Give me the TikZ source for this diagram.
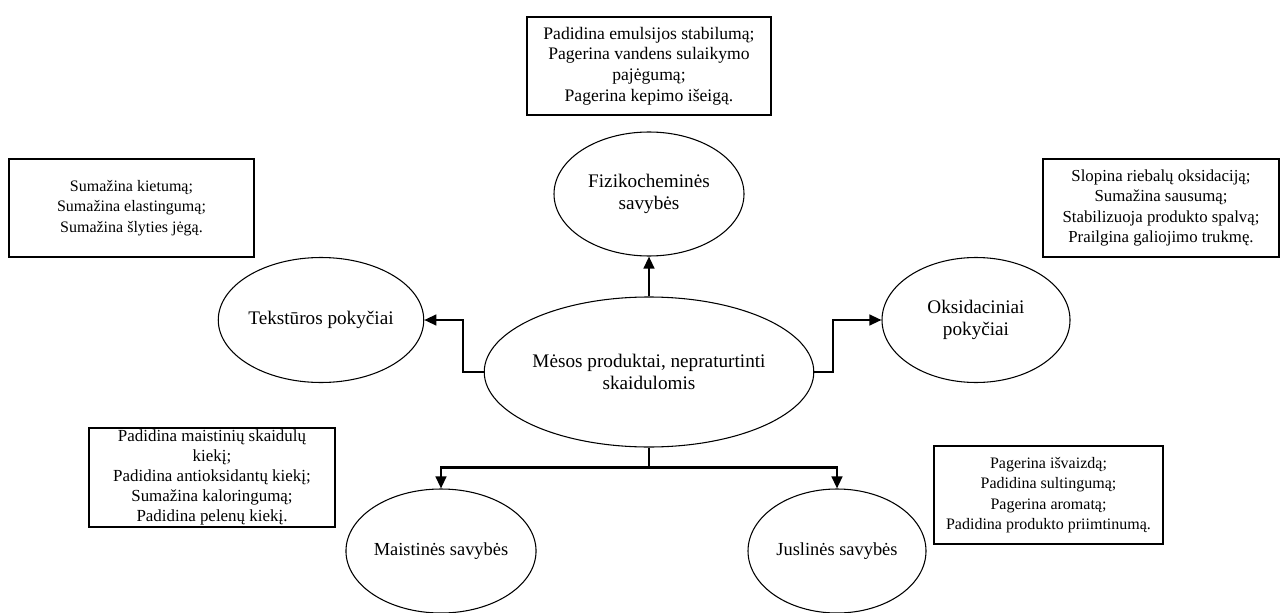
\documentclass[tikz,border=0pt]{standalone}
\usepackage{fontspec}
\setmainfont{Liberation Serif}
\usetikzlibrary{shapes.geometric,arrows.meta}
\begin{document}
\begin{tikzpicture}[x=0.75pt,y=-0.75pt,
  oval/.style={ellipse,draw,line width=0.8pt,inner sep=0pt,align=center,font=\fontsize{14.4}{16.8}\selectfont},
  infobox/.style={rectangle,draw,line width=1pt,inner sep=0pt,align=center,font=\fontsize{12}{15.2}\selectfont},
  conn/.style={line width=1.6pt,-{Triangle[length=9pt,width=8pt]}}]
\useasboundingbox (0,0) rectangle (1280,613);

% ellipses
\node[oval,minimum width=242.25pt,minimum height=112.5pt] (c) at (649,372) {Mėsos produktai, nepraturtinti\\skaidulomis};
\node[oval,minimum width=142.5pt,minimum height=93pt] (fiz) at (649,194) {Fizikocheminės\\savybės};
\node[oval,minimum width=141pt,minimum height=93.75pt] (tek) at (321,320) {Tekstūros pokyčiai};
\node[oval,minimum width=141pt,minimum height=93.75pt] (oks) at (976,320) {Oksidaciniai\\pokyčiai};
\node[oval,minimum width=135pt,minimum height=93pt,font=\fontsize{13.8}{16.5}\selectfont] (mai) at (441,551) {Maistinės savybės};
\node[oval,minimum width=133.5pt,minimum height=93pt,font=\fontsize{13.8}{16.5}\selectfont] (jus) at (837,551) {Juslinės savybės};

% boxes
\node[infobox,minimum width=183pt,minimum height=73.5pt,font=\fontsize{13.2}{15.6}\selectfont] (bfiz) at (649,66) {Padidina emulsijos stabilumą;\\Pagerina vandens sulaikymo\\pajėgumą;\\Pagerina kepimo išeigą.};
\node[infobox,minimum width=183.75pt,minimum height=73.5pt] (btek) at (131.5,208) {Sumažina kietumą;\\Sumažina elastingumą;\\Sumažina šlyties jėgą.};
\node[infobox,minimum width=177pt,minimum height=73.5pt,font=\fontsize{12.6}{15.4}\selectfont] (boks) at (1161,208) {Slopina riebalų oksidaciją;\\Sumažina sausumą;\\Stabilizuoja produkto spalvą;\\Prailgina galiojimo trukmę.};
\node[infobox,minimum width=184.5pt,minimum height=74.25pt,font=\fontsize{12.7}{15}\selectfont] (bmai) at (212,477.5) {Padidina maistinių skaidulų\\kiekį;\\Padidina antioksidantų kiekį;\\Sumažina kaloringumą;\\Padidina pelenų kiekį.};
\node[infobox,minimum width=171.75pt,minimum height=73.5pt] (bjus) at (1048.5,495) {Pagerina išvaizdą;\\Padidina sultingumą;\\Pagerina aromatą;\\Padidina produkto priimtinumą.};

% connectors
\draw[conn] (c.north) -- (fiz.south);
\draw[conn] (c.west) -- ++(-21,0) |- (tek.east);
\draw[conn] (c.east) -- ++(19,0) |- (oks.west);
\draw[line width=1.6pt] (c.south) -- ++(0,20) coordinate (bus);
\draw[conn] (bus) -| (mai.north);
\draw[conn] (bus) -| (jus.north);
\end{tikzpicture}
\end{document}
